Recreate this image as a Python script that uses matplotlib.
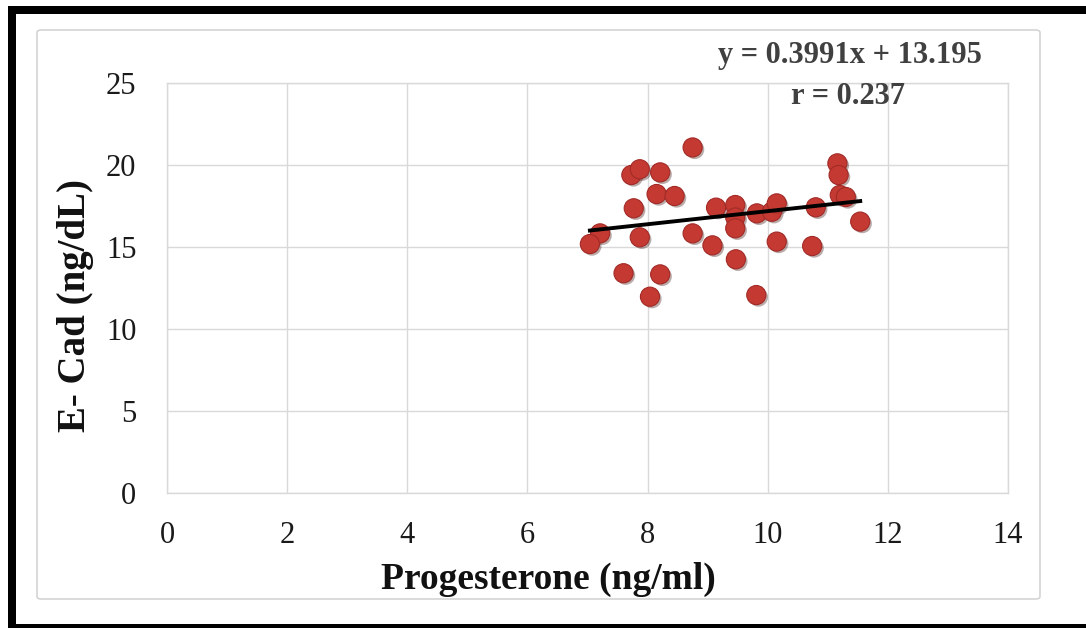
import matplotlib
matplotlib.use("Agg")
import matplotlib.pyplot as plt
import matplotlib.patheffects as pe
from matplotlib.patches import Rectangle, FancyBboxPatch
import numpy as np

# Progesterone (ng/ml) vs E-cadherin (ng/dL)
progesterone = [8.75, 7.73, 7.87, 8.21, 8.15, 8.45, 7.77, 9.14, 9.46, 9.46,
                9.46, 9.82, 10.07, 10.15, 10.80, 11.16, 11.18, 11.20, 11.30, 11.54,
                7.21, 7.04, 7.87, 8.75, 9.08, 9.47, 10.15, 10.74, 7.60, 8.21,
                8.04, 9.81]
ecad = [21.07, 19.39, 19.74, 19.55, 18.23, 18.11, 17.36, 17.40, 17.56, 16.80,
        16.14, 17.05, 17.15, 17.66, 17.42, 20.10, 19.39, 18.17, 18.05, 16.55,
        15.83, 15.18, 15.59, 15.83, 15.10, 14.25, 15.33, 15.06, 13.40, 13.33,
        11.97, 12.07]

slope = 0.3991
intercept = 13.195
r_value = 0.237

x_ticks = [0, 2, 4, 6, 8, 10, 12, 14]
y_ticks = [0, 5, 10, 15, 20, 25]

W, H = 1086, 628
fig = plt.figure(figsize=(W / 100, H / 100), dpi=100)
fig.patch.set_facecolor("white")

def fx(px):
    return px / W

def fy(py):
    return 1 - py / H

# black frame (left, top, bottom)
for (x0, y0, x1, y1) in [(8, 6, 16, 628), (8, 6, 1086, 14), (8, 624, 1086, 628)]:
    fig.patches.append(Rectangle((fx(x0), fy(y1)), fx(x1) - fx(x0), fy(y0) - fy(y1),
                                 transform=fig.transFigure, facecolor="black",
                                 edgecolor="none", zorder=-2))

# chart area outline
fig.patches.append(FancyBboxPatch((fx(37), fy(599)), fx(1040) - fx(37), fy(30) - fy(599),
                                  boxstyle="round,pad=0,rounding_size=0.004",
                                  transform=fig.transFigure, facecolor="white",
                                  edgecolor="#d4d4d4", linewidth=1.2, zorder=-1))

ax = fig.add_axes([fx(167), fy(493), fx(1008) - fx(167), fy(83) - fy(493)])
ax.set_zorder(2)
ax.set_facecolor("white")
ax.set_xlim(0, 14)
ax.set_ylim(0, 25)
ax.set_xticks(x_ticks)
ax.set_yticks(y_ticks)
ax.grid(True, color="#d9d9d9", linewidth=1.0)
ax.set_axisbelow(True)
for s in ax.spines.values():
    s.set_color("#d9d9d9")
    s.set_linewidth(1.0)

serif = "Liberation Serif"
ax.tick_params(length=0, labelsize=22, labelcolor="#1a1a1a")
ax.tick_params(axis="x", pad=20)
ax.tick_params(axis="y", pad=22)
for lab in ax.get_xticklabels() + ax.get_yticklabels():
    lab.set_fontfamily(serif)

ax.scatter(progesterone, ecad, s=190, color="#c43a33", edgecolors="#a22a26",
           linewidths=0.8, zorder=3,
           path_effects=[pe.SimplePatchShadow(offset=(1.5, -1.5), alpha=0.35),
                         pe.Normal()])

xs = np.array([min(progesterone), max(progesterone)])
ax.plot(xs, slope * xs + intercept, color="black", linewidth=2.8, zorder=4)

ax.set_xlabel("Progesterone (ng/ml)", fontfamily=serif, fontweight="bold",
              fontsize=27, color="#111111")
ax.xaxis.set_label_coords(0.454, -0.212)
ax.xaxis.label.set_va("center")
ax.set_ylabel("E- Cad (ng/dL)", fontfamily=serif, fontweight="bold",
              fontsize=28, color="#111111")
ax.yaxis.set_label_coords(-0.109, 0.4585)
ax.yaxis.label.set_va("center")

fig.text(fx(850), fy(55), f"y = {slope}x + {intercept}", fontfamily=serif,
         fontweight="bold", fontsize=22, color="#404040", ha="center", va="center",
         zorder=3)
fig.text(fx(848), fy(97), f"r = {r_value}", fontfamily=serif,
         fontweight="bold", fontsize=22, color="#404040", ha="center", va="center",
         zorder=3)

fig.savefig("out.png", dpi=100, facecolor="white")
